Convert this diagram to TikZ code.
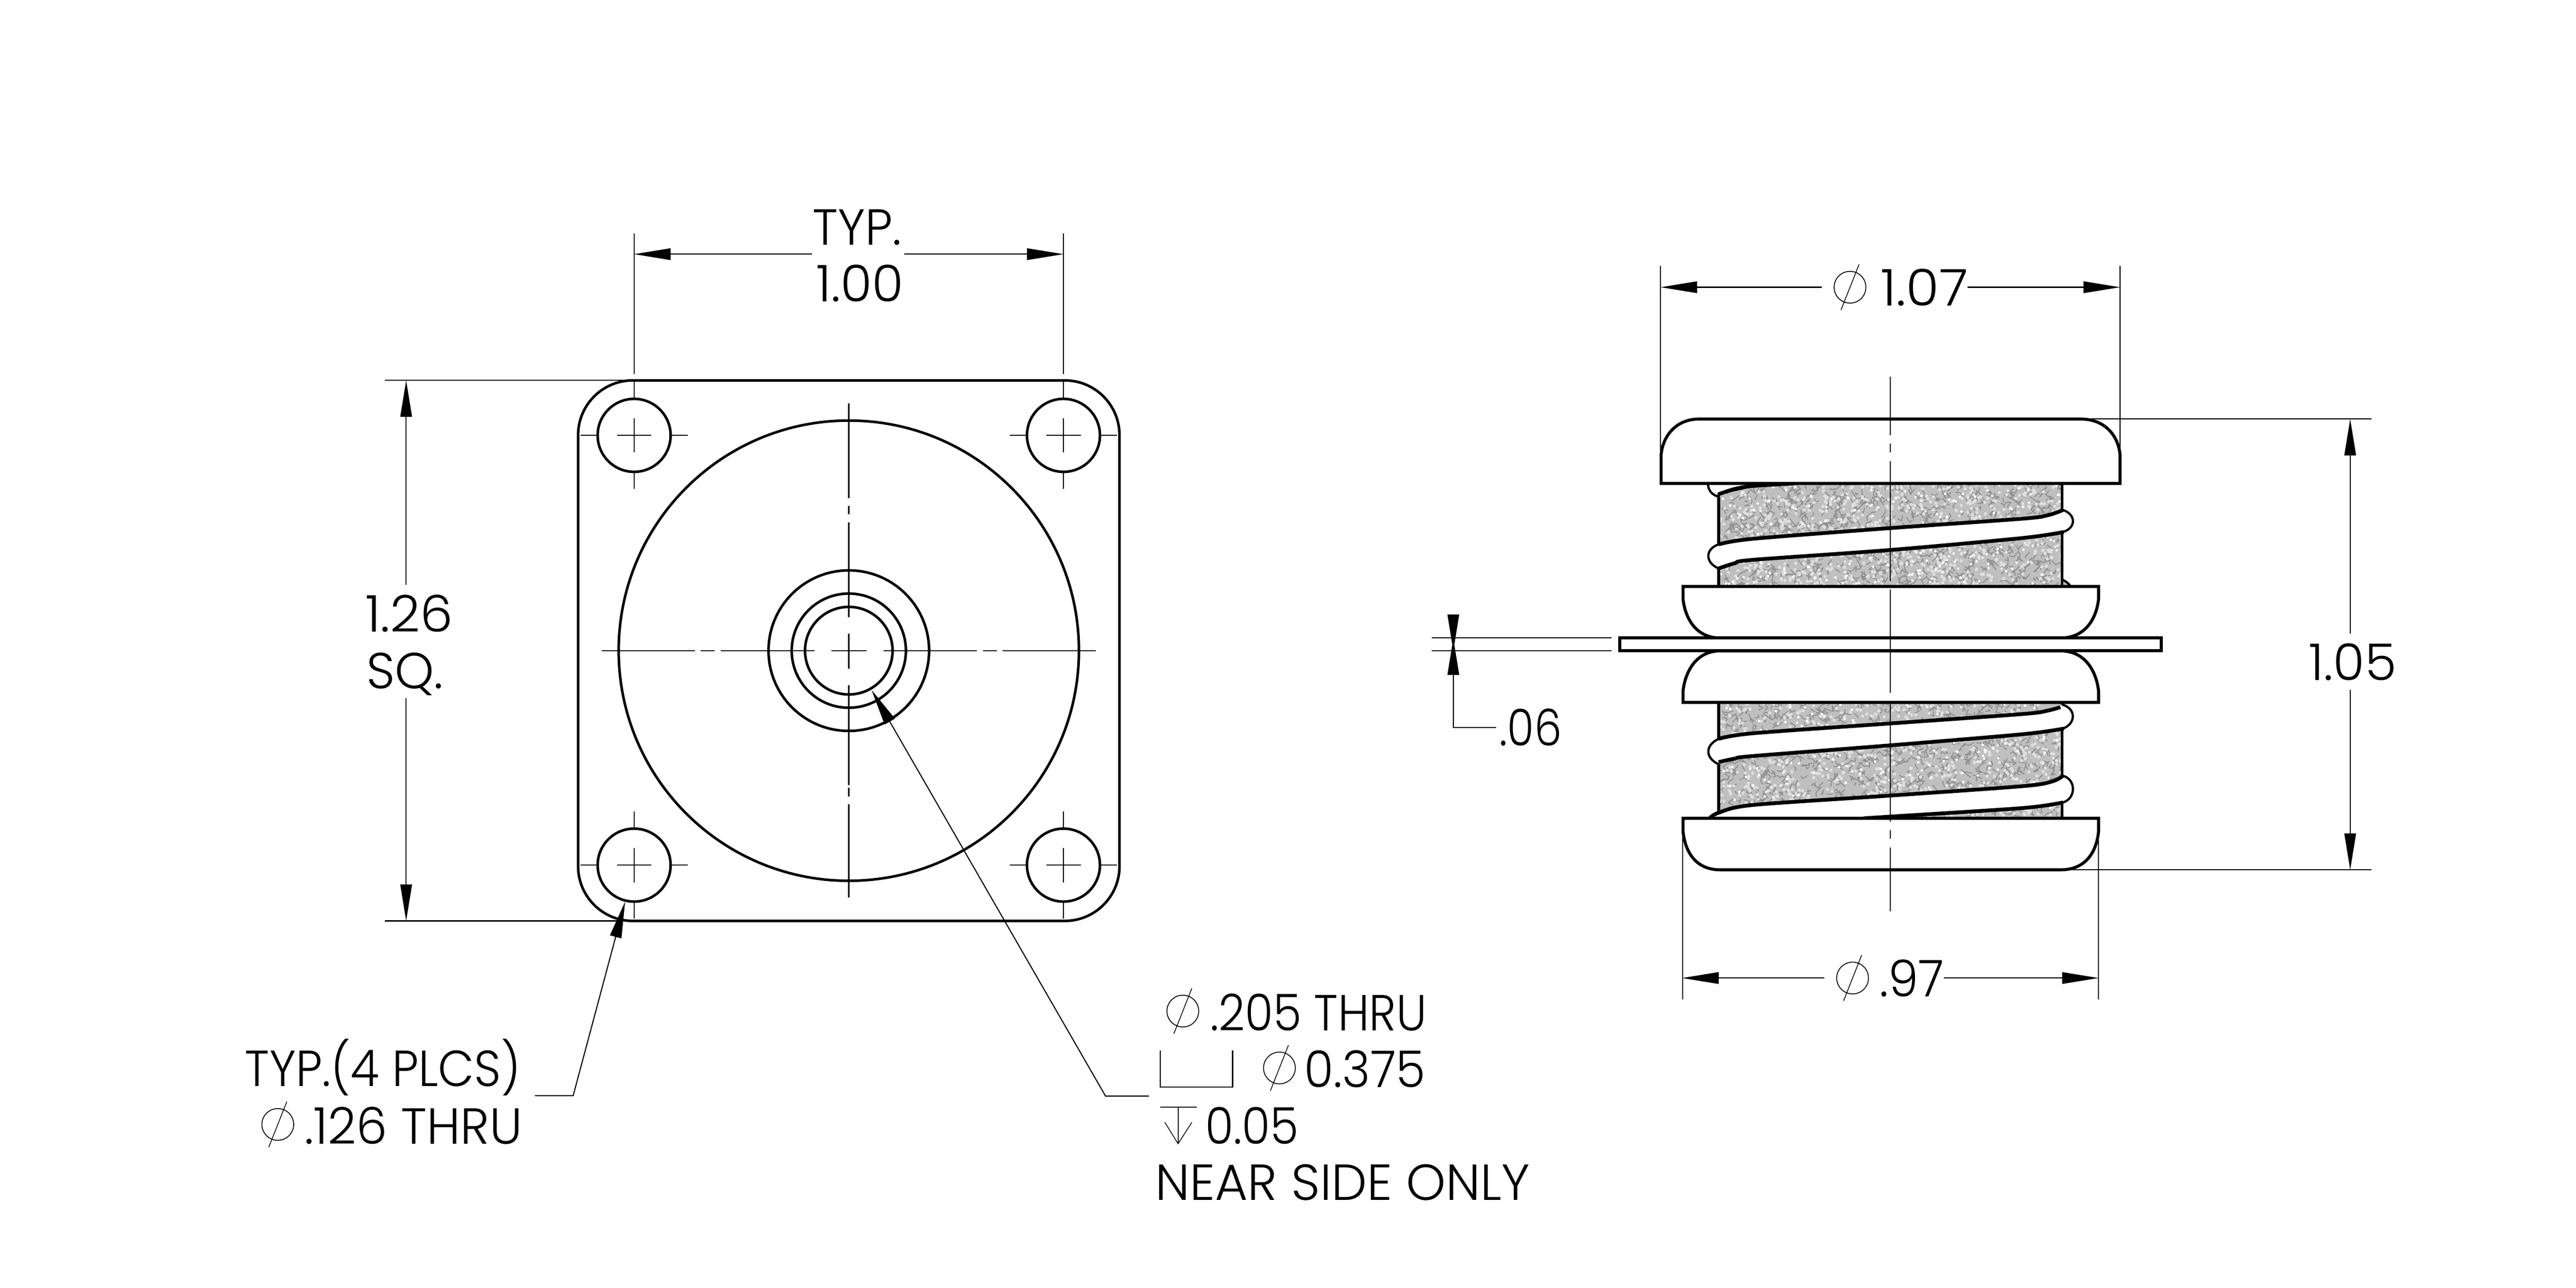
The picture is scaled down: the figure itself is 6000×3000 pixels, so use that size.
\documentclass[tikz,border=0pt]{standalone}
\usepackage{fontspec}
\usepackage{graphicx}
\setmainfont{Poppins Light}
\usetikzlibrary{arrows.meta}
\definecolor{speckbase}{gray}{0.75}
\definecolor{speckvein}{gray}{0.56}
\definecolor{specklight}{gray}{0.88}
\tikzset{
  x=0.2pt,y=-0.2pt,
  thinline/.style={line width=0.5pt,black},
  dimtip/.style={thinline,-{Triangle[length=17pt,width=5.4pt]}},
  partA/.style={line width=1.2pt,black},
  partB/.style={line width=1.4pt,black},
  edgeline/.style={line width=1.75pt,black},
  bulge/.style={line width=1.05pt,black},
  lbl/.style={inner sep=0pt,outer sep=0pt,anchor=base,font=\fontsize{23.6pt}{23.6pt}\selectfont},
  vein/.style={line width=0.45pt,speckvein,line cap=round,line join=round},
}
% name, centre x, baseline y, width px, text
\newcommand\lab[5]{\node[lbl] (#1) at (#2,#3) {\resizebox{\dimexpr #4pt*2/10\relax}{\height}{#5}};}
\newcommand\phisym[2]{%
  \draw[thinline,line width=.4pt] (#1,#2) circle [radius=37];
  \draw[thinline,line width=.35pt] (#1+21,#2-53) -- (#1-21,#2+53);}
\newcommand\holecross[2]{%
  \draw[thinline] (#1-40,#2) -- (#1+40,#2) (#1,#2-40) -- (#1,#2+40)
    (#1-125,#2) -- (#1-85,#2) (#1+85,#2) -- (#1+125,#2)
    (#1,#2-125) -- (#1,#2-85) (#1,#2+85) -- (#1,#2+125);}
\newcommand\speckle[4]{%
  \begin{scope}
  \clip (#1,#2) rectangle (#1+#3,#2+#4);
  \fill[speckbase] (#1,#2) rectangle (#1+#3,#2+#4);
  \foreach \i in {1,...,1000} {
    \draw[vein] ({#1+#3*rnd},{#2+#4*rnd}) -- ++({24*rnd-12},{24*rnd-12}) -- ++({24*rnd-12},{24*rnd-12});
  }
  \foreach \i in {1,...,800} {
    \fill[specklight] ({#1+#3*rnd},{#2+#4*rnd}) circle [radius=3.8];
  }
  \foreach \i in {1,...,240} {
    \fill[white] ({#1+#3*rnd},{#2+#4*rnd}) circle [radius=3];
  }
  \end{scope}}
\begin{document}
\begin{tikzpicture}
\pgfmathsetseed{4242}
\useasboundingbox (0,0) rectangle (6000,3000);

%% ---------- front view ----------
\draw[partA,rounded corners=25.5pt] (1346.5,886) rectangle (2607.5,2145);
\foreach \cx in {1477,2477} \foreach \cy in {1014,2015} {
  \draw[partA] (\cx,\cy) circle [radius=85];
  \holecross{\cx}{\cy}
}
\draw[partA] (1977,1515.5) circle [radius=536];
\draw[partA] (1977,1515.5) circle [radius=187];
\draw[partA] (1977,1515.5) circle [radius=133];
\draw[partA] (1977,1515.5) circle [radius=102];
% centre lines
\draw[thinline] (1977,940) -- (1977,1160) (1977,1178) -- (1977,1198) (1977,1217) -- (1977,1437)
  (1977,1476) -- (1977,1557) (1977,1596) -- (1977,1829) (1977,1835) -- (1977,1855) (1977,1873) -- (1977,2090);
\draw[thinline] (1402,1516) -- (1619,1516) (1632,1516) -- (1664,1516) (1679,1516) -- (1897,1516)
  (1937,1516) -- (2018,1516) (2058,1516) -- (2275,1516) (2290,1516) -- (2322,1516) (2335,1516) -- (2552,1516);
% 1.00
\draw[thinline] (1477,543) -- (1477,871) (2477,543) -- (2477,871);
\coordinate (d100a) at (1477,592); \coordinate (d100b) at (2477,592);
\coordinate (d100c) at (1891,592); \coordinate (d100d) at (2106,592);
\draw[dimtip] (d100c) -- (d100a);
\draw[dimtip] (d100d) -- (d100b);
\lab{typA}{1996.5}{570}{207}{TYP.}
\lab{oneOO}{2003}{703}{204}{1.00}
% 1.26
\draw[thinline] (896,886) -- (1452,886) (896,2145) -- (1440,2145);
\coordinate (d126a) at (946,886); \coordinate (d126b) at (946,2145);
\coordinate (d126c) at (946,1362); \coordinate (d126d) at (946,1626);
\draw[dimtip] (d126c) -- (d126a);
\draw[dimtip] (d126d) -- (d126b);
\lab{oneTS}{953}{1472}{204}{1.26}
\lab{sq}{943}{1604}{179}{SQ.}
% hole leader
\coordinate (holeTip) at (1456,2100); \coordinate (holeK) at (1335,2552); \coordinate (holeE) at (1246,2552);
\draw[dimtip] (holeE) -- (holeK) -- (holeTip);
\lab{typB}{892}{2530}{642}{TYP.(4 PLCS)}
\phisym{647}{2619}
\lab{holeT}{963}{2664}{507}{.126 THRU}
% bore leader
\coordinate (boreTip) at (2030,1607); \coordinate (boreK) at (2575,2553); \coordinate (boreE) at (2676,2553);
\draw[dimtip] (boreE) -- (boreK) -- (boreTip);
\phisym{2755}{2355}
\lab{boreT}{3071}{2400}{504}{.205 THRU}
\draw[thinline] (2702,2447) -- (2702,2532) -- (2871,2532) -- (2871,2447);
\phisym{2980}{2487.5}
\lab{cbT}{3179}{2532}{282}{0.375}
\draw[thinline] (2702,2579) -- (2788,2579) (2744,2579) -- (2744,2664);
\draw[thinline,line width=.35pt] (2713,2614) -- (2744,2664) -- (2776,2614);
\lab{depT}{2916}{2664}{218}{0.05}
\lab{nearT}{3127}{2795}{873}{NEAR SIDE ONLY}

%% ---------- side view ----------
\speckle{4003}{1126}{800}{240}
\speckle{4003}{1636}{800}{270}
\draw[partB] (4003,1157) -- (4003,1366) (4803,1126) -- (4803,1350);
\draw[partB] (4003,1636) -- (4003,1893) (4803,1636) -- (4803,1906);
\draw[bulge,fill=speckbase] (4803,1350) .. controls (4812,1354) and (4820,1360) .. (4824,1368) -- (4803,1368) -- cycle;
% top sliver
\draw[bulge,fill=white] (3978,1124) .. controls (3978,1140) and (3985,1152) .. (4003,1157) -- (4003,1150) -- (4082,1132) -- (4180,1126) -- cycle;
\draw[edgeline] plot[smooth,tension=.5] coordinates {(4003,1151) (4040,1139) (4082,1132) (4180,1126)};
% band A
\fill[white] (4003,1268) -- (4082,1255) -- (4403,1230) -- (4712,1208) -- (4770,1200) -- (4805,1188)
  .. controls (4836,1198) and (4836,1230) .. (4805,1239) -- (4712,1253) -- (4403,1281) -- (4082,1304) -- (4003,1324)
  .. controls (3970,1310) and (3972,1278) .. (4003,1268) -- cycle;
\draw[bulge] (4805,1188) .. controls (4836,1198) and (4836,1230) .. (4805,1239);
\draw[bulge] (4003,1324) .. controls (3970,1310) and (3972,1278) .. (4003,1268);
\draw[edgeline] plot[smooth,tension=.5] coordinates {(4003,1268) (4082,1255) (4403,1230) (4712,1208) (4770,1200) (4805,1188)};
\draw[edgeline] plot[smooth,tension=.5] coordinates {(4003,1324) (4040,1312) (4082,1304) (4403,1281) (4712,1253) (4807,1239)};
% band B
\fill[white] (4003,1721) -- (4082,1708) -- (4403,1685) -- (4712,1663) -- (4770,1655) -- (4803,1641)
  .. controls (4836,1650) and (4836,1685) .. (4805,1697) -- (4712,1710) -- (4403,1736) -- (4082,1761) -- (4003,1780)
  .. controls (3970,1765) and (3972,1735) .. (4003,1721) -- cycle;
\draw[bulge] (4803,1641) .. controls (4836,1650) and (4836,1685) .. (4805,1697);
\draw[bulge] (4003,1780) .. controls (3970,1765) and (3972,1735) .. (4003,1721);
\draw[edgeline] plot[smooth,tension=.5] coordinates {(4003,1721) (4082,1708) (4403,1685) (4712,1663) (4770,1655) (4799,1647)};
\draw[edgeline] plot[smooth,tension=.5] coordinates {(4003,1775) (4040,1767) (4082,1761) (4403,1736) (4712,1710) (4807,1697)};
% band C
\fill[white] (3984,1906) -- (3984,1904) -- (4003,1893) -- (4082,1875) -- (4403,1853) -- (4712,1831) -- (4780,1820) -- (4805,1807)
  .. controls (4836,1815) and (4836,1860) .. (4805,1869) -- (4712,1882) -- (4403,1902) -- (4340,1906) -- cycle;
\draw[bulge] (4805,1807) .. controls (4836,1815) and (4836,1860) .. (4805,1869);
\draw[edgeline] plot[smooth,tension=.5] coordinates {(3982,1906) (4003,1893) (4082,1875) (4403,1853) (4712,1831) (4780,1820) (4805,1807)};
\draw[edgeline] plot[smooth,tension=.5] coordinates {(4805,1869) (4712,1882) (4403,1902) (4340,1906)};
% top cap
\draw[partB,fill=white] (3869,1126) -- (3869,1060) .. controls (3872,1020) and (3900,976) .. (3958,976)
  -- (4846,976) .. controls (4907,976) and (4935,1020) .. (4938,1060) -- (4938,1126) -- cycle;
% discs and plate
\draw[partB,fill=white] (3920,1366) -- (3920,1395) .. controls (3925,1440) and (3950,1486) .. (4007,1486)
  -- (4799,1486) .. controls (4858,1486) and (4883,1440) .. (4888,1395) -- (4888,1366) -- cycle;
\draw[partB,fill=white] (3920,1636) -- (3920,1610) .. controls (3925,1565) and (3950,1516) .. (4007,1516)
  -- (4799,1516) .. controls (4858,1516) and (4883,1565) .. (4888,1610) -- (4888,1636) -- cycle;
\draw[partB,fill=white] (3773,1486) rectangle (5034,1516);
\draw[partB,fill=white] (3920,1906) -- (3920,1936) .. controls (3925,1985) and (3950,2026) .. (4007,2026)
  -- (4799,2026) .. controls (4858,2026) and (4883,1985) .. (4888,1936) -- (4888,1906) -- cycle;
% centre line
\draw[thinline] (4403,877) -- (4403,1014) (4403,1033) -- (4403,1054) (4403,1074) -- (4403,1354)
  (4403,1373) -- (4403,1614) (4403,1634) -- (4403,1914) (4403,1933) -- (4403,1953) (4403,1974) -- (4403,2123);
% 1.07
\draw[thinline] (3868,619) -- (3868,1060) (4938,619) -- (4938,1060);
\coordinate (d107a) at (3868,669); \coordinate (d107b) at (4938,669);
\coordinate (d107c) at (4243,669); \coordinate (d107d) at (4583,669);
\draw[dimtip] (d107c) -- (d107a);
\draw[dimtip] (d107d) -- (d107b);
\phisym{4309}{669}
\lab{oneOS}{4482}{712}{204}{1.07}
% .97
\draw[thinline] (3919,1940) -- (3919,2328) (4888,1940) -- (4888,2328);
\coordinate (d97a) at (3918,2278); \coordinate (d97b) at (4888,2278);
\coordinate (d97c) at (4249,2278); \coordinate (d97d) at (4528,2278);
\draw[dimtip] (d97c) -- (d97a);
\draw[dimtip] (d97d) -- (d97b);
\phisym{4315}{2278}
\lab{nineS}{4453}{2321}{150}{.97}
% 1.05
\draw[thinline] (4846,976) -- (5524,976) (4799,2026) -- (5524,2026);
\coordinate (d105a) at (5474,976); \coordinate (d105b) at (5474,2026);
\coordinate (d105c) at (5474,1476); \coordinate (d105d) at (5474,1607);
\draw[dimtip] (d105c) -- (d105a);
\draw[dimtip] (d105d) -- (d105b);
\lab{oneOF}{5480}{1585}{204}{1.05}
% .06
\draw[thinline] (3335,1486) -- (3754,1486) (3335,1516) -- (3754,1516);
\coordinate (d06a) at (3385,1432); \coordinate (d06b) at (3385,1516);
\coordinate (d06c) at (3485,1694); \coordinate (d06d) at (3385,1694); \coordinate (d06e) at (3385,1487);
\draw[dimtip] (d06a) -- (d06b);
\draw[dimtip] (d06c) -- (d06d) -- (d06e);
\lab{ohS}{3565}{1737}{145}{.06}
\end{tikzpicture}
\end{document}
